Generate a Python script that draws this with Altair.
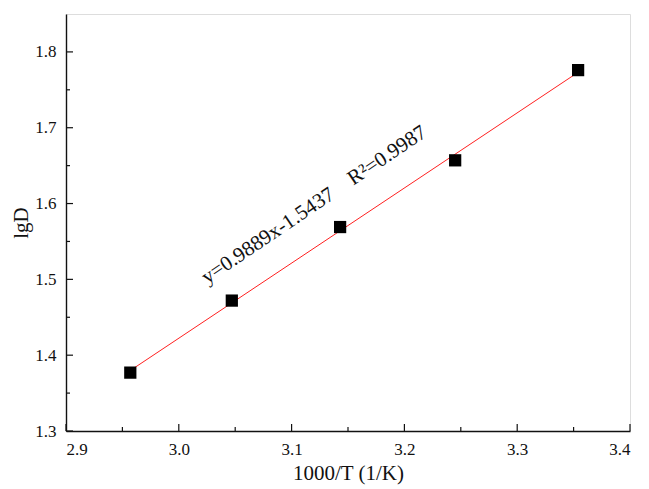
import altair as alt
import pandas as pd

inv_t = [2.957, 3.047, 3.143, 3.245, 3.354]
lgd = [1.377, 1.472, 1.569, 1.657, 1.776]
x_major = [2.9, 3.0, 3.1, 3.2, 3.3, 3.4]
x_minor = [2.95, 3.05, 3.15, 3.25, 3.35]
y_major = [1.3, 1.4, 1.5, 1.6, 1.7, 1.8]
y_minor = [1.35, 1.45, 1.55, 1.65, 1.75]
eq_text = ["y=0.9889x-1.5437\u00a0\u00a0\u00a0\u00a0R\u00b2=0.9987"]
eq_pos = [(3.120, 1.598)]

FONT = "Liberation Serif"
W, H = 564, 417

df = pd.DataFrame({"x": inv_t, "y": lgd})
xs = alt.Scale(domain=[2.9, 3.4], nice=False, zero=False)
ys = alt.Scale(domain=[1.3, 1.85], nice=False, zero=False)

xaxis = alt.Axis(values=x_major, format=".1f", tickSize=0, labelPadding=10,
                 title="1000/T (1/K)", titleFont=FONT, titleFontSize=21,
                 titleFontWeight="normal", titleColor="#111", titlePadding=5,
                 labelFont=FONT, labelFontSize=17, labelColor="#111",
                 domainColor="#111", domainWidth=1.4, grid=False)
yaxis = alt.Axis(values=y_major, format=".1f", tickSize=0, labelPadding=10,
                 title="lgD", titleFont=FONT, titleFontSize=21,
                 titleFontWeight="normal", titleColor="#111", titlePadding=3,
                 labelFont=FONT, labelFontSize=17, labelColor="#111",
                 domainColor="#111", domainWidth=1.4, grid=False)

base = alt.Chart(df)

fit = base.mark_line(color="#ff2020", strokeWidth=1).encode(
    x=alt.X("x:Q", scale=xs, axis=xaxis),
    y=alt.Y("y:Q", scale=ys, axis=yaxis),
).transform_regression("x", "y")

pts = base.mark_square(size=150, color="black", opacity=1).encode(
    x=alt.X("x:Q", scale=xs), y=alt.Y("y:Q", scale=ys))

xt_maj = alt.Chart(pd.DataFrame({"t": x_major})).mark_rule(color="#111", strokeWidth=1.2).encode(
    x=alt.X("t:Q", scale=xs), y=alt.value(H), y2=alt.value(H - 7))
xt_min = alt.Chart(pd.DataFrame({"t": x_minor})).mark_rule(color="#111", strokeWidth=1.2).encode(
    x=alt.X("t:Q", scale=xs), y=alt.value(H), y2=alt.value(H - 4))
yt_maj = alt.Chart(pd.DataFrame({"t": y_major})).mark_rule(color="#111", strokeWidth=1.2).encode(
    y=alt.Y("t:Q", scale=ys), x=alt.value(0), x2=alt.value(7))
yt_min = alt.Chart(pd.DataFrame({"t": y_minor})).mark_rule(color="#111", strokeWidth=1.2).encode(
    y=alt.Y("t:Q", scale=ys), x=alt.value(0), x2=alt.value(4))

ann = alt.Chart(pd.DataFrame({"label": eq_text, "x": [p[0] for p in eq_pos],
                              "y": [p[1] for p in eq_pos]})).mark_text(
    font=FONT, fontSize=21, angle=326, color="#111", align="center", baseline="middle"
).encode(x=alt.X("x:Q", scale=xs), y=alt.Y("y:Q", scale=ys), text="label:N")

chart = alt.layer(fit, xt_maj, xt_min, yt_maj, yt_min, pts, ann).properties(
    width=W, height=H,
    autosize=alt.AutoSizeParams(type="none"),
    padding={"left": 58, "top": 6, "right": 11, "bottom": 58},
).configure_view(stroke="#111", strokeWidth=1.5).configure(background="white")

chart.save("out.html", embed_options={"renderer": "svg", "actions": False})
